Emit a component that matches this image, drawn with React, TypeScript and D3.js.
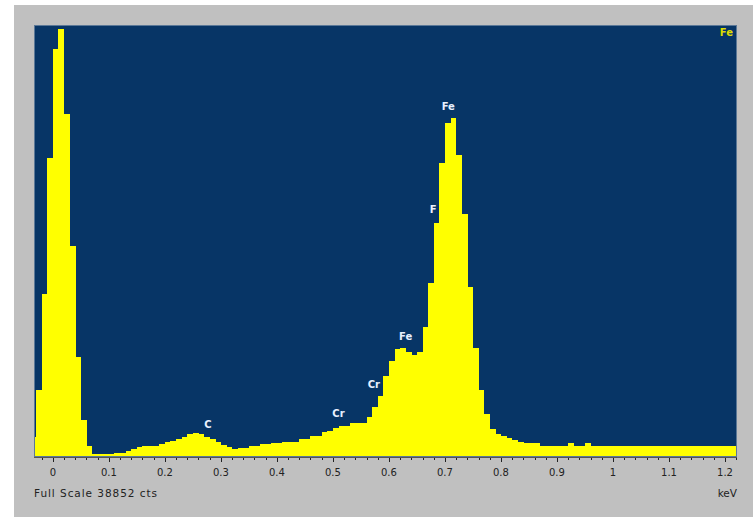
import { useEffect, useRef } from 'react';
import * as d3 from 'd3';

// spectrum counts per 0.01 keV channel, first channel starts at -0.04 keV
const channelStart = -0.04;
const channelWidth = 0.01;
const counts = [
  1830, 6030, 14660, 26860, 36670, 38490, 30820, 18980, 8970, 3330,
  990, 270, 270, 270, 270, 390, 390, 540, 720, 900,
  1020, 1020, 1020, 1140, 1320, 1470, 1620, 1830, 2040, 2190,
  2040, 1830, 1590, 1380, 1120, 930, 720, 840, 840, 1020,
  1020, 1140, 1140, 1290, 1290, 1380, 1380, 1380, 1590, 1590,
  1890, 1890, 2220, 2370, 2580, 2820, 2820, 3030, 3030, 3030,
  3570, 4470, 5510, 7310, 8630, 9670, 9830, 9470, 9200, 9470,
  11670, 15680, 21020, 26470, 30010, 30460, 27160, 21830, 15320, 9830,
  6030, 3870, 2490, 2040, 1890, 1680, 1530, 1380, 1230, 1230,
  1230, 1020, 1020, 1020, 1020, 1020, 1230, 1020, 1020, 1230,
  1020, 1020, 1020, 1020, 1020, 1020, 1020, 1020, 1020, 1020,
  1020, 1020, 1020, 1020, 1020, 1020, 1020, 1020, 1020, 1020,
  1020, 1020, 1020, 1020, 1020, 1020, 1020,
];

const fullScale = 38852;
const xTicks = [0, 0.1, 0.2, 0.3, 0.4, 0.5, 0.6, 0.7, 0.8, 0.9, 1, 1.1, 1.2];

// peak labels: element, energy (keV), counts at label position
const peakLabels = [
  { el: 'C', e: 0.277, c: 2580 },
  { el: 'Cr', e: 0.51, c: 3570 },
  { el: 'Cr', e: 0.573, c: 6200 },
  { el: 'Fe', e: 0.63, c: 10520 },
  { el: 'F', e: 0.679, c: 21900 },
  { el: 'Fe', e: 0.706, c: 31210 },
];

const width = 753;
const height = 517;
const plot = { left: 34, right: 737, top: 25, bottom: 457 };

const App = () => {
  const ref = useRef<SVGSVGElement>(null);

  useEffect(() => {
    const svg = d3.select(ref.current);
    svg.selectAll('*').remove();

    const x = d3.scaleLinear().domain([-0.0336, 1.2214]).range([plot.left, plot.right]);
    const y = d3.scaleLinear().domain([0, fullScale]).range([plot.bottom, plot.top]);

    svg.append('rect')
      .attr('x', 14).attr('y', 5)
      .attr('width', width - 14).attr('height', height - 5)
      .attr('fill', '#c0c0c0');

    svg.append('clipPath').attr('id', 'plotclip')
      .append('rect')
      .attr('x', plot.left).attr('y', plot.top)
      .attr('width', plot.right - plot.left).attr('height', plot.bottom - plot.top);

    svg.append('rect')
      .attr('x', plot.left).attr('y', plot.top)
      .attr('width', plot.right - plot.left).attr('height', plot.bottom - plot.top)
      .attr('fill', '#073566');

    svg.append('g')
      .attr('clip-path', 'url(#plotclip)')
      .selectAll('rect')
      .data(counts)
      .enter()
      .append('rect')
      .attr('x', (d, i) => x(channelStart + i * channelWidth))
      .attr('width', (d, i) => x(channelStart + (i + 1) * channelWidth) - x(channelStart + i * channelWidth) + 0.3)
      .attr('y', d => y(d))
      .attr('height', d => plot.bottom - y(d))
      .attr('fill', '#ffff00')
      .attr('shape-rendering', 'crispEdges');

    svg.append('rect')
      .attr('x', plot.left + 0.5).attr('y', plot.top + 0.5)
      .attr('width', plot.right - plot.left - 1).attr('height', plot.bottom - plot.top - 1)
      .attr('fill', 'none')
      .attr('stroke', '#5b7897');

    // axis: minor ticks every 0.02 keV
    const minor = d3.range(-0.02, 1.23, 0.02).map(v => +v.toFixed(2));
    svg.append('g')
      .selectAll('line')
      .data(minor)
      .enter()
      .append('line')
      .attr('x1', d => Math.round(x(d)) + 0.5)
      .attr('x2', d => Math.round(x(d)) + 0.5)
      .attr('y1', plot.bottom)
      .attr('y2', d => plot.bottom + (xTicks.some(t => Math.abs(t - d) < 1e-6) ? 5 : 3))
      .attr('stroke', '#222');

    svg.append('line')
      .attr('x1', plot.left).attr('x2', plot.right)
      .attr('y1', plot.bottom + 0.5).attr('y2', plot.bottom + 0.5)
      .attr('stroke', '#555');

    svg.append('g')
      .selectAll('text')
      .data(xTicks)
      .enter()
      .append('text')
      .attr('x', d => x(d))
      .attr('y', 476)
      .attr('text-anchor', 'middle')
      .attr('font-family', 'DejaVu Sans')
      .attr('font-size', 10)
      .attr('fill', '#222')
      .text(d => String(d));

    svg.append('text')
      .attr('x', 34).attr('y', 497)
      .attr('font-family', 'DejaVu Sans')
      .attr('font-size', 10.5)
      .attr('textLength', 123)
      .attr('lengthAdjust', 'spacing')
      .attr('fill', '#222')
      .text(`Full Scale ${fullScale} cts`);

    svg.append('text')
      .attr('x', 737).attr('y', 497)
      .attr('text-anchor', 'end')
      .attr('font-family', 'DejaVu Sans')
      .attr('font-size', 10.5)
      .attr('fill', '#222')
      .text('keV');

    svg.append('g')
      .selectAll('text')
      .data(peakLabels)
      .enter()
      .append('text')
      .attr('x', d => x(d.e))
      .attr('y', d => y(d.c))
      .attr('text-anchor', 'middle')
      .attr('font-family', 'DejaVu Sans')
      .attr('font-weight', 'bold')
      .attr('font-size', 10)
      .attr('fill', '#e8f0ff')
      .text(d => d.el);

    svg.append('text')
      .attr('x', 733).attr('y', 36)
      .attr('text-anchor', 'end')
      .attr('font-family', 'DejaVu Sans')
      .attr('font-weight', 'bold')
      .attr('font-size', 10)
      .attr('fill', '#dede00')
      .text('Fe');
  }, []);

  return (
    <svg ref={ref} width={width} height={height} style={{ position: 'absolute', left: 0, top: 0 }}></svg>
  );
};

export default App;
